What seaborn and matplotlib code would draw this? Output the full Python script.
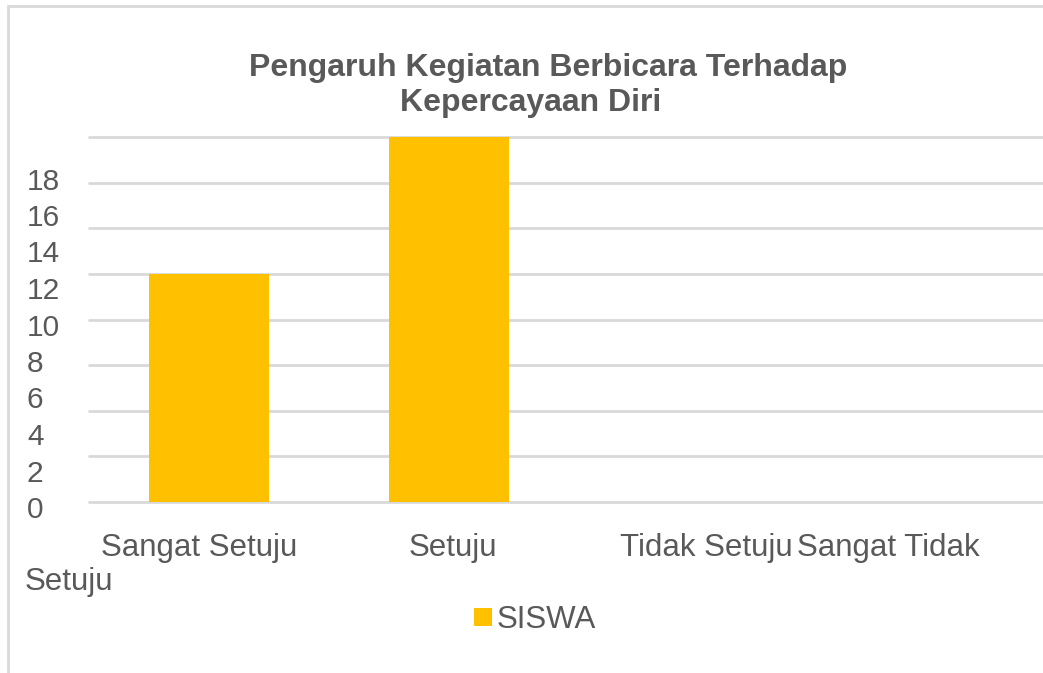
import numpy as np
import matplotlib
matplotlib.use("Agg")
import matplotlib.pyplot as plt
import matplotlib.transforms as mtransforms
from matplotlib.patches import Rectangle
import seaborn as sns

# data
categories = ["Sangat Setuju", "Setuju", "Tidak Setuju", "Sangat Tidak Setuju"]
values = [12.5, 20, 0, 0]
series_name = "SISWA"
title_lines = ["Pengaruh Kegiatan Berbicara Terhadap", "Kepercayaan Diri"]
ytick_labels = [0, 2, 4, 6, 8, 10, 12, 14, 16, 18]

bar_color = "#FFC000"
text_color = "#595959"
grid_color = "#D9D9D9"

sns.set_style("white")
plt.rcParams["font.family"] = ["Liberation Sans", "DejaVu Sans"]

W, H = 1043, 673
fig = plt.figure(figsize=(W / 100, H / 100), dpi=100)
ax = fig.add_axes([89 / W, 1 - 502 / H, (1049 - 89) / W, (502 - 137) / H])

sns.barplot(x=categories, y=values, color=bar_color, width=0.5, linewidth=0,
            saturation=1, label=series_name, ax=ax, zorder=1)
if ax.get_legend() is not None:
    ax.get_legend().remove()

ax.set_xlim(-0.5, 3.5)
ax.set_ylim(0, 20)
ax.set_xlabel("")
ax.set_ylabel("")

# gridlines every 2.5, labels every 2 (as in the original)
ax.yaxis.remove_overlapping_locs = False
ax.set_yticks(np.arange(0, 20.1, 2.5), minor=True)
ax.set_yticks(ytick_labels)
ax.grid(False)
ax.grid(True, which="minor", axis="y", color=grid_color, linewidth=2)
for t in ax.yaxis.get_minor_ticks():
    t.gridline.set_clip_on(False)
ax.set_axisbelow(True)
ax.tick_params(axis="y", which="both", length=0)
ax.tick_params(axis="y", which="major", pad=0)
ax.set_yticklabels([str(v) for v in ytick_labels], fontsize=21.5, color=text_color, ha="left")
off = mtransforms.ScaledTranslation(-62 / 100, -5 / 100, fig.dpi_scale_trans)
for lab in ax.get_yticklabels():
    lab.set_transform(lab.get_transform() + off)

# x labels, the last one wraps to the left like in the source
xlabels = categories[:3] + [" ".join(categories[3].split()[:2])]
ax.set_xticks(range(len(categories)))
ax.set_xticklabels(xlabels, fontsize=22.5, color=text_color)
ax.tick_params(axis="x", length=0, pad=22)
shifts = [-10, 4, 17, -41]
for lab, dx in zip(ax.get_xticklabels(), shifts):
    lab.set_transform(lab.get_transform() +
                      mtransforms.ScaledTranslation(dx / 100, 0, fig.dpi_scale_trans))
fig.text(25 / W, 1 - 582 / H, categories[3].split()[-1], fontsize=22.5,
         color=text_color, ha="left", va="center")

for s in ax.spines.values():
    s.set_visible(False)

fig.text(548 / W, 1 - 68 / H, title_lines[0], ha="center", va="center", fontsize=23,
         fontweight="bold", color=text_color)
fig.text(531 / W, 1 - 103 / H, title_lines[1], ha="center", va="center", fontsize=23,
         fontweight="bold", color=text_color)

fig.legend(loc="center", bbox_to_anchor=(535 / W, 1 - 620 / H), frameon=False,
           fontsize=22.5, labelcolor=text_color, handlelength=0.55, handleheight=0.55,
           handletextpad=0.15)

fig.patches.append(Rectangle((8 / W, -0.1), 1.2, 1 - 6 / H + 0.1, transform=fig.transFigure,
                             fill=False, edgecolor=grid_color, linewidth=2))

fig.savefig("out.png", dpi=100)
